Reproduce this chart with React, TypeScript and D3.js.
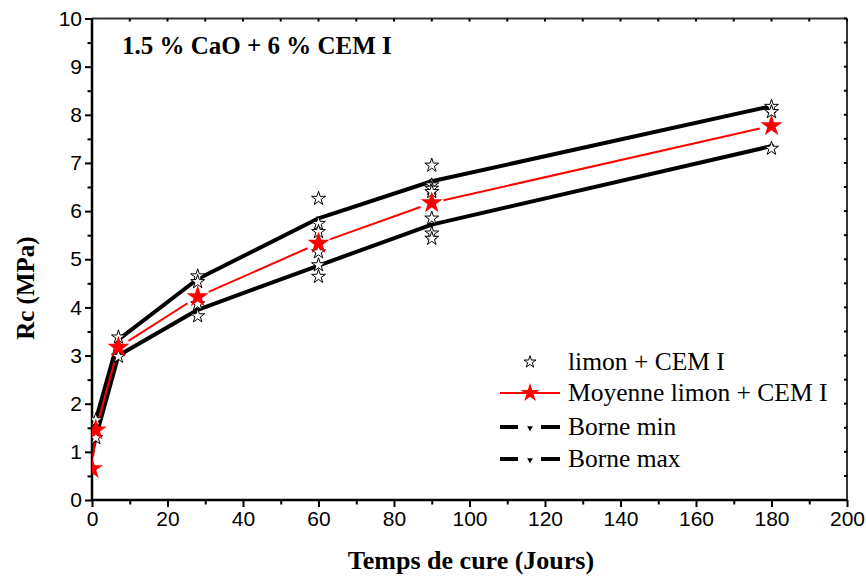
import { useEffect, useRef } from 'react';
import * as d3 from 'd3';

// Curing time (days) and compressive strength Rc (MPa)
const meanDays = [0, 1, 7, 28, 60, 90, 180];
const meanValues = [0.65, 1.45, 3.17, 4.22, 5.33, 6.17, 7.77];

const boundDays = [0, 1, 7, 28, 60, 90, 180];
const boundMin = [0.98, 1.3, 3.0, 3.95, 4.87, 5.72, 7.35];
const boundMax = [1.08, 1.66, 3.33, 4.59, 5.85, 6.62, 8.18];

const sampleDays = [1, 1, 7, 7, 28, 28, 28, 28, 60, 60, 60, 60, 60, 60, 90, 90, 90, 90, 90, 90, 90, 180, 180, 180];
const sampleValues = [1.66, 1.29, 3.38, 2.98, 4.65, 4.53, 4.07, 3.82, 6.26, 5.74, 5.57, 5.15, 4.88, 4.64, 6.95, 6.54, 6.47, 6.4, 5.85, 5.54, 5.43, 8.17, 8.06, 7.3];

const legendLabels = ['limon + CEM I', 'Moyenne limon + CEM I', 'Borne min', 'Borne max'];

const W = 866;
const H = 576;
const PLOT = { left: 92, right: 847, top: 18.5, bottom: 500 };

export default function App() {
  const svgRef = useRef<SVGSVGElement>(null);

  useEffect(() => {
    const svg = d3.select(svgRef.current);
    svg.selectAll('*').remove();

    const x = d3.scaleLinear().domain([0, 200]).range([PLOT.left, PLOT.right]);
    const y = d3.scaleLinear().domain([0, 10]).range([PLOT.bottom, PLOT.top]);
    const sans = "'Liberation Sans', Arial, sans-serif";
    const serif = "'Liberation Serif', 'Times New Roman', serif";

    svg.append('defs').append('clipPath').attr('id', 'plot-clip')
      .append('rect')
      .attr('x', PLOT.left).attr('y', PLOT.top)
      .attr('width', PLOT.right - PLOT.left).attr('height', PLOT.bottom - PLOT.top);

    // top / right frame with small inward ticks
    svg.append('line')
      .attr('x1', PLOT.left).attr('x2', PLOT.right).attr('y1', PLOT.top).attr('y2', PLOT.top)
      .attr('stroke', '#333').attr('stroke-width', 2);
    svg.append('line')
      .attr('x1', PLOT.right).attr('x2', PLOT.right).attr('y1', PLOT.top).attr('y2', PLOT.bottom)
      .attr('stroke', '#333').attr('stroke-width', 2);
    svg.append('g').selectAll('line')
      .data(d3.range(0, 201, 10))
      .join('line')
      .attr('x1', (d) => x(d)).attr('x2', (d) => x(d))
      .attr('y1', PLOT.top).attr('y2', PLOT.top + 3)
      .attr('stroke', '#000').attr('stroke-width', 2);
    svg.append('g').selectAll('line')
      .data(d3.range(0, 10.01, 0.5))
      .join('line')
      .attr('x1', PLOT.right - 3).attr('x2', PLOT.right)
      .attr('y1', (d) => y(d)).attr('y2', (d) => y(d))
      .attr('stroke', '#000').attr('stroke-width', 2);

    // left axis
    const yMinor = svg.append('g').attr('transform', `translate(${PLOT.left},0)`)
      .call(d3.axisLeft(y).tickValues(d3.range(0.5, 10, 1)).tickSize(4.5).tickFormat(() => ''));
    yMinor.select('.domain').remove();
    yMinor.selectAll('line').attr('stroke-width', 2);
    const yAxis = svg.append('g').attr('transform', `translate(${PLOT.left},0)`)
      .call(d3.axisLeft(y).tickValues(d3.range(0, 11, 1)).tickSize(7).tickPadding(3).tickFormat(d3.format('d')));
    yAxis.select('.domain').attr('stroke-width', 2.5).attr('d', `M0,${PLOT.bottom}V${PLOT.top}`);
    yAxis.selectAll('line').attr('stroke-width', 2);
    yAxis.selectAll('text').attr('font-size', '21px').attr('font-family', sans).attr('fill', '#000');

    // bottom axis
    const xMinor = svg.append('g').attr('transform', `translate(0,${PLOT.bottom})`)
      .call(d3.axisBottom(x).tickValues(d3.range(10, 200, 20)).tickSize(4.5).tickFormat(() => ''));
    xMinor.select('.domain').remove();
    xMinor.selectAll('line').attr('stroke-width', 2);
    const xAxis = svg.append('g').attr('transform', `translate(0,${PLOT.bottom})`)
      .call(d3.axisBottom(x).tickValues(d3.range(0, 201, 20)).tickSize(7).tickPadding(4).tickFormat(d3.format('d')));
    xAxis.select('.domain').attr('stroke-width', 2.5).attr('d', `M${PLOT.left},0H${PLOT.right}`);
    xAxis.selectAll('line').attr('stroke-width', 2);
    xAxis.selectAll('text').attr('font-size', '21px').attr('font-family', sans).attr('fill', '#000');

    // axis titles
    svg.append('text')
      .attr('transform', `translate(34,${y(4.4)}) rotate(-90)`)
      .attr('text-anchor', 'middle')
      .attr('font-family', serif).attr('font-weight', 'bold').attr('font-size', '25px')
      .text('Rc (MPa)');
    svg.append('text')
      .attr('x', 471).attr('y', 569)
      .attr('text-anchor', 'middle')
      .attr('font-family', serif).attr('font-weight', 'bold').attr('font-size', '26px')
      .text('Temps de cure (Jours)');

    // title
    svg.append('text')
      .attr('x', 122).attr('y', 54)
      .attr('font-family', serif).attr('font-weight', 'bold').attr('font-size', '25px')
      .text('1.5 % CaO + 6 % CEM I');

    const plot = svg.append('g').attr('clip-path', 'url(#plot-clip)');

    // bounds
    const boundLine = d3.line<number>()
      .x((_, i) => x(boundDays[i]));
    for (const vals of [boundMin, boundMax]) {
      plot.append('path')
        .datum(vals)
        .attr('d', boundLine.y((d) => y(d)))
        .attr('fill', 'none').attr('stroke', '#000').attr('stroke-width', 4)
        .attr('stroke-linejoin', 'round');
      plot.append('g').selectAll('path')
        .data(vals)
        .join('path')
        .attr('d', d3.symbol(d3.symbolTriangle, 14)())
        .attr('transform', (d, i) => `translate(${x(boundDays[i])},${y(d)}) rotate(180)`)
        .attr('fill', '#000');
    }

    // mean line with gaps around stars
    const gap = 12;
    for (let i = 0; i < meanDays.length - 1; i++) {
      const x0 = x(meanDays[i]), y0 = y(meanValues[i]);
      const x1 = x(meanDays[i + 1]), y1 = y(meanValues[i + 1]);
      const len = Math.hypot(x1 - x0, y1 - y0);
      if (len <= gap * 2) continue;
      const ux = (x1 - x0) / len, uy = (y1 - y0) / len;
      plot.append('line')
        .attr('x1', x0 + ux * gap).attr('y1', y0 + uy * gap)
        .attr('x2', x1 - ux * gap).attr('y2', y1 - uy * gap)
        .attr('stroke', '#ff0000').attr('stroke-width', 2);
    }

    // individual samples
    plot.append('g').selectAll('path')
      .data(sampleValues)
      .join('path')
      .attr('d', d3.symbol(d3.symbolStar, 60)())
      .attr('transform', (d, i) => `translate(${x(sampleDays[i])},${y(d)})`)
      .attr('fill', '#fff').attr('stroke', '#000').attr('stroke-width', 1);

    // mean stars
    plot.append('g').selectAll('path')
      .data(meanValues)
      .join('path')
      .attr('d', d3.symbol(d3.symbolStar, 150)())
      .attr('transform', (d, i) => `translate(${x(meanDays[i])},${y(d)})`)
      .attr('fill', '#ff0000');

    // legend
    const lg = svg.append('g').attr('font-family', serif).attr('font-size', '25.5px');
    const rows = [362, 393, 427, 459];
    lg.append('path')
      .attr('d', d3.symbol(d3.symbolStar, 45)())
      .attr('transform', `translate(530,${rows[0]})`)
      .attr('fill', '#fff').attr('stroke', '#000').attr('stroke-width', 1);
    lg.append('line')
      .attr('x1', 500).attr('x2', 560).attr('y1', rows[1]).attr('y2', rows[1])
      .attr('stroke', '#ff0000').attr('stroke-width', 2);
    lg.append('path')
      .attr('d', d3.symbol(d3.symbolStar, 110)())
      .attr('transform', `translate(530,${rows[1]})`)
      .attr('fill', '#ff0000');
    for (const r of [rows[2], rows[3]]) {
      lg.append('line').attr('x1', 500).attr('x2', 518).attr('y1', r).attr('y2', r)
        .attr('stroke', '#000').attr('stroke-width', 4);
      lg.append('line').attr('x1', 541).attr('x2', 560).attr('y1', r).attr('y2', r)
        .attr('stroke', '#000').attr('stroke-width', 4);
      lg.append('path')
        .attr('d', d3.symbol(d3.symbolTriangle, 14)())
        .attr('transform', `translate(530,${r + 1}) rotate(180)`)
        .attr('fill', '#000');
    }
    lg.selectAll('text.lbl')
      .data(legendLabels)
      .join('text')
      .attr('class', 'lbl')
      .attr('x', 568).attr('y', (_, i) => rows[i] + 8)
      .attr('fill', '#000')
      .text((d) => d);
  }, []);

  return (
    <svg
      ref={svgRef}
      width={W}
      height={H}
      style={{ position: 'absolute', left: 0, top: 0, background: '#fff' }}
    />
  );
}
